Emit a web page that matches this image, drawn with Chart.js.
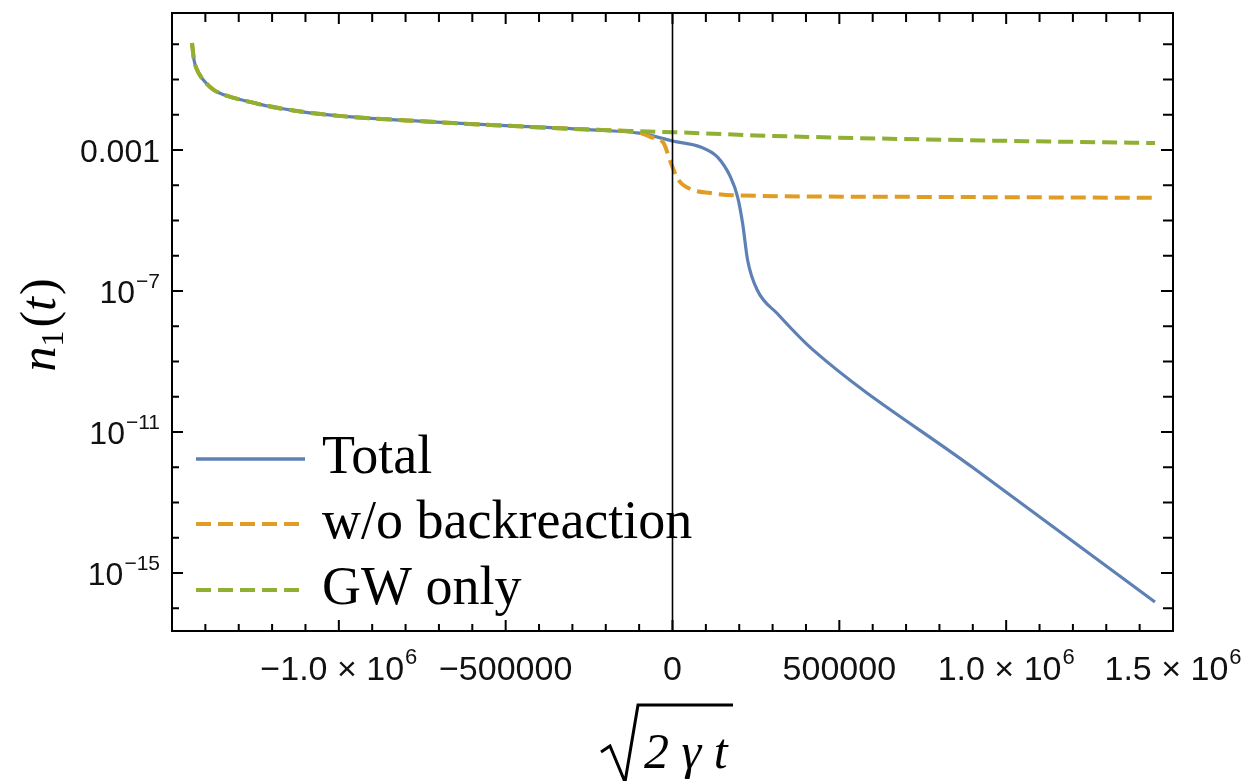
<!DOCTYPE html>
<html lang="en">
<head>
    <meta charset="UTF-8">
    <title>n1(t)</title>
    <style>
        html, body {
            margin: 0;
            padding: 0;
            background: #fff;
        }
        #chart-container {
            width: 1241px;
            height: 781px;
        }
    </style>
</head>
<body>
    <div id="chart-container">
        <canvas id="nChart" width="1241" height="781"></canvas>
    </div>
    <script src="https://cdn.jsdelivr.net/npm/chart.js"></script>
    <script>
        // all three curves share the same early part
        const headX = [-1440000, -1434000, -1425000, -1413000, -1395000, -1374000, -1345000, -1314000,
                       -1260000, -1213000, -1114000, -1000000, -750000, -500000, -250000];
        const headY = [1.08, 0.357, 0.19, 0.118, 0.074, 0.050, 0.037, 0.030,
                       0.0224, 0.0177, 0.0123, 0.0093, 0.0065, 0.0049, 0.0038];

        const totalTailX = [-100000, -50000, 0, 84000, 135000, 174000, 195000, 210000, 225000,
                            254000, 314000, 422000, 900000, 1446000];
        const totalTailY = [0.0030, 0.0024, 0.0018, 0.00122, 0.00063, 0.00017, 4.7e-5, 8.5e-6, 7.6e-7,
                            1.07e-7, 2.3e-8, 2.1e-9, 9.8e-13, 1.5e-16];

        const noBackTailX = [-100000, -65900, -27000, -6000, 18000, 54000, 114000, 183000, 683000, 1446000];
        const noBackTailY = [0.0031, 0.00234, 0.00158, 4.6e-4, 1.41e-4, 7.8e-5, 6.0e-5, 5.2e-5, 4.7e-5, 4.4e-5];

        const gwTailX = [-100000, 0, 250000, 500000, 1000000, 1446000];
        const gwTailY = [0.0034, 0.0032, 0.0026, 0.00224, 0.00182, 0.00158];

        const seriesNames = ['Total', 'w/o backreaction', 'GW only'];
        const seriesColors = ['#5e81b5', '#e19c24', '#8fb032'];

        const xTickValues = [-1000000, -500000, 0, 500000, 1000000, 1500000];
        const xTickLabels = ['\u22121.0 \u00d7 10^6', '\u2212500000', '0', '500000', '1.0 \u00d7 10^6', '1.5 \u00d7 10^6'];
        const yTickValues = [1e-3, 1e-7, 1e-11, 1e-15];
        const yTickLabels = ['0.001', '10^\u22127', '10^\u221211', '10^\u221215'];

        const X_MIN = -1500000, X_MAX = 1500000;
        const Y_MIN = Math.pow(10, -16.645), Y_MAX = Math.pow(10, 0.887);

        function toPoints(xs, ys) {
            return xs.map((x, i) => ({ x: x, y: ys[i] }));
        }

        const totalData = toPoints(headX.concat(totalTailX), headY.concat(totalTailY));
        const noBackData = toPoints(headX.concat(noBackTailX), headY.concat(noBackTailY));
        const gwData = toPoints(headX.concat(gwTailX), headY.concat(gwTailY));

        const DASH = [15, 7];

        // text with an optional superscript after '^'
        function drawSup(ctx, text, x, y, align, size) {
            const parts = text.split('^');
            const base = parts[0], sup = parts[1] || '';
            const baseFont = size + 'px "Liberation Sans"';
            const supFont = Math.round(size * 0.66) + 'px "Liberation Sans"';
            ctx.font = baseFont;
            const wb = ctx.measureText(base).width;
            ctx.font = supFont;
            const ws = sup ? ctx.measureText(sup).width + 1 : 0;
            const w = wb + ws;
            let x0 = x;
            if (align === 'right') x0 = x - w;
            if (align === 'center') x0 = x - w / 2;
            ctx.textAlign = 'left';
            ctx.textBaseline = 'alphabetic';
            ctx.font = baseFont;
            ctx.fillText(base, x0, y);
            if (sup) {
                ctx.font = supFont;
                ctx.fillText(sup, x0 + wb + 1, y - size * 0.46);
            }
        }

        function seg(ctx, x, y, s, font) {
            ctx.font = font;
            ctx.fillText(s, x, y);
            return ctx.measureText(s).width;
        }

        const framePlugin = {
            id: 'frame',
            afterDraw(chart) {
                const ctx = chart.ctx;
                const xs = chart.scales.x, ys = chart.scales.y;
                const { left, right, top, bottom } = chart.chartArea;
                ctx.save();
                ctx.strokeStyle = '#000';
                ctx.fillStyle = '#000';

                // vertical line at x = 0
                const xz = xs.getPixelForValue(0);
                ctx.lineWidth = 1.6;
                ctx.beginPath();
                ctx.moveTo(xz, top);
                ctx.lineTo(xz, bottom);
                ctx.stroke();

                // frame
                ctx.lineWidth = 2;
                ctx.strokeRect(left, top, right - left, bottom - top);

                // x ticks, every 100000, inward on bottom and top
                ctx.beginPath();
                for (let k = -14; k <= 14; k++) {
                    const px = xs.getPixelForValue(k * 100000);
                    const major = k % 5 === 0;
                    const lb = major ? 11 : 7;
                    const lt = major ? 11 : 9;
                    ctx.moveTo(px, bottom);
                    ctx.lineTo(px, bottom - lb);
                    ctx.moveTo(px, top);
                    ctx.lineTo(px, top + lt);
                }
                // y ticks, every decade, inward on left and right
                for (let e = -16; e <= 0; e++) {
                    const py = ys.getPixelForValue(Math.pow(10, e));
                    const major = yTickValues.some(v => Math.abs(Math.log10(v) - e) < 1e-9);
                    const l = major ? 11 : 7;
                    ctx.moveTo(left, py);
                    ctx.lineTo(left + l, py);
                    ctx.moveTo(right, py);
                    ctx.lineTo(right - (major ? 12 : 10), py);
                }
                ctx.stroke();

                // tick labels
                ctx.fillStyle = '#111';
                xTickValues.forEach((v, i) => {
                    drawSup(ctx, xTickLabels[i], xs.getPixelForValue(v), bottom + 49, 'center', 34);
                });
                yTickValues.forEach((v, i) => {
                    drawSup(ctx, yTickLabels[i], left - 12, ys.getPixelForValue(v) + 12, 'right', 32);
                });

                // legend inside the plot
                const rows = [459, 524, 590];
                chart.data.datasets.slice(0, 3).forEach((ds, i) => {
                    const y = rows[i];
                    ctx.strokeStyle = ds.borderColor;
                    ctx.lineWidth = i === 0 ? 3.5 : 4;
                    ctx.setLineDash(i === 0 ? [] : DASH);
                    ctx.beginPath();
                    ctx.moveTo(196, y);
                    ctx.lineTo(305, y);
                    ctx.stroke();
                    ctx.setLineDash([]);
                    ctx.fillStyle = '#000';
                    ctx.font = '54px "Liberation Serif"';
                    ctx.textAlign = 'left';
                    ctx.textBaseline = 'alphabetic';
                    ctx.fillText(ds.label, 322, y + 14);
                });

                // y axis title n1(t)
                ctx.fillStyle = '#000';
                ctx.save();
                ctx.translate(41, 325);
                ctx.rotate(-Math.PI / 2);
                const it = 'italic 50px "Liberation Serif"';
                const up = '50px "Liberation Serif"';
                const sub = '32px "Liberation Serif"';
                ctx.textAlign = 'left';
                ctx.textBaseline = 'alphabetic';
                ctx.font = it; let w = ctx.measureText('n').width;
                ctx.font = sub; w += ctx.measureText('1').width + 3;
                ctx.font = up; w += ctx.measureText('()').width;
                ctx.font = it; w += ctx.measureText('t').width + 2;
                let cx = -w / 2;
                cx += seg(ctx, cx, 14, 'n', it);
                cx += seg(ctx, cx, 22, '1', sub) + 3;
                cx += seg(ctx, cx, 14, '(', up);
                cx += seg(ctx, cx, 14, 't', it) + 2;
                seg(ctx, cx, 14, ')', up);
                ctx.restore();

                // x axis title sqrt(2 gamma t)
                ctx.strokeStyle = '#000';
                ctx.lineWidth = 3;
                ctx.beginPath();
                ctx.moveTo(601, 752);
                ctx.lineTo(610, 746);
                ctx.lineTo(625, 782);
                ctx.lineTo(638, 705);
                ctx.lineTo(733, 705);
                ctx.stroke();
                ctx.font = 'italic 50px "Liberation Serif"';
                ctx.textAlign = 'left';
                ctx.fillText('2 \u03b3 t', 644, 768);

                ctx.restore();
            }
        };

        const ctx = document.getElementById('nChart').getContext('2d');
        const chart = new Chart(ctx, {
            type: 'line',
            data: {
                datasets: [{
                    label: seriesNames[0],
                    data: totalData,
                    borderColor: seriesColors[0],
                    borderWidth: 3.2,
                    order: 2
                }, {
                    label: seriesNames[1],
                    data: noBackData,
                    borderColor: seriesColors[1],
                    borderWidth: 4,
                    borderDash: DASH,
                    order: 1
                }, {
                    label: seriesNames[2],
                    data: gwData,
                    borderColor: seriesColors[2],
                    borderWidth: 4,
                    borderDash: DASH,
                    order: 0
                }]
            },
            options: {
                responsive: false,
                devicePixelRatio: 1,
                animation: false,
                layout: { padding: { top: 13, right: 68, left: 0, bottom: 0 } },
                elements: {
                    point: { radius: 0 },
                    line: { cubicInterpolationMode: 'monotone', fill: false }
                },
                plugins: {
                    legend: { display: false },
                    tooltip: { enabled: false }
                },
                scales: {
                    x: {
                        type: 'linear',
                        min: X_MIN,
                        max: X_MAX,
                        grid: { display: false },
                        border: { display: false },
                        ticks: { display: false },
                        afterFit: s => { s.height = 150; }
                    },
                    y: {
                        type: 'logarithmic',
                        min: Y_MIN,
                        max: Y_MAX,
                        bounds: 'data',
                        grid: { display: false },
                        border: { display: false },
                        ticks: { display: false },
                        afterFit: s => { s.width = 172; }
                    }
                }
            },
            plugins: [framePlugin]
        });
    </script>
</body>
</html>
